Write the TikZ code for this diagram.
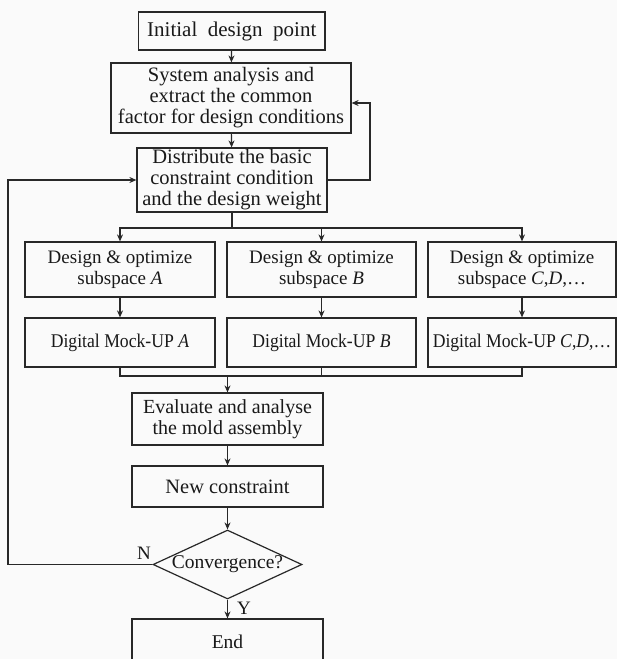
\documentclass[tikz,border=0pt]{standalone}
\usepackage{fontspec}
\setmainfont{Liberation Serif}
\newfontfamily\condserif[FakeStretch=0.91]{Liberation Serif}
\usetikzlibrary{arrows.meta,shapes.geometric}
\definecolor{bgc}{RGB}{250,250,250}
\definecolor{linec}{RGB}{40,40,40}
\definecolor{txtc}{RGB}{25,25,25}
\begin{document}
\begin{tikzpicture}[x=1pt,y=-1pt,
  box/.style={draw=linec, line width=1.2pt, inner sep=0pt, align=center, text=txtc},
  link/.style={draw=linec, line width=1.1pt, -{Stealth[length=7pt,width=6pt]}},
  plain/.style={draw=linec, line width=1.1pt},
  lab/.style={text=txtc, inner sep=0pt, font=\fontsize{19}{21}\selectfont}]
\clip (0,0) rectangle (617,659);
\fill[bgc] (0,0) rectangle (617,659);
% top chain
\node[box, minimum width=186.5, minimum height=38, font=\fontsize{21}{21}\selectfont] (init) at (231.75,31) {Initial\ \ design\ \ point};
\node[box, minimum width=240, minimum height=70, font=\fontsize{20.5}{21}\selectfont] (sys) at (231,98) {System analysis and\\extract the common\\factor for design conditions};
\node[box, minimum width=190, minimum height=64, font=\fontsize{20.5}{21}\selectfont] (dist) at (232,180) {Distribute the basic\\constraint condition\\and the design weight};
% subspace row
\node[box, minimum width=190, minimum height=55, font=\fontsize{19}{21}\selectfont] (dA) at (120,269.5) {Design \& optimize\\subspace \textit{A}};
\node[box, minimum width=189, minimum height=55, font=\fontsize{19}{21}\selectfont] (dB) at (321.5,269.5) {Design \& optimize\\subspace \textit{B}};
\node[box, minimum width=188, minimum height=55, font=\fontsize{19}{21}\selectfont] (dC) at (522,269.5) {Design \& optimize\\subspace \textit{C},\textit{D},…};
% mock-up row
\node[box, minimum width=190, minimum height=49, font=\condserif\fontsize{19.4}{21}\selectfont] (mA) at (120,342.5) {Digital Mock-UP \textit{A}};
\node[box, minimum width=189, minimum height=49, font=\condserif\fontsize{19.4}{21}\selectfont] (mB) at (321.5,342.5) {Digital Mock-UP \textit{B}};
\node[box, minimum width=188, minimum height=49, font=\condserif\fontsize{19.4}{21}\selectfont] (mC) at (522,342.5) {Digital Mock-UP \textit{C},\textit{D},…};
% lower chain
\node[box, minimum width=191, minimum height=52, font=\fontsize{20}{21}\selectfont] (eval) at (227.5,419) {Evaluate and analyse\\the mold assembly};
\node[box, minimum width=191, minimum height=41, font=\fontsize{20.4}{21}\selectfont] (new) at (227.5,486.5) {New constraint};
\node[box, shape=diamond, aspect=2.16, minimum width=149, minimum height=69, font=\fontsize{19.5}{21}\selectfont] (conv) at (227.5,564.5) {Convergence?};
\node[box, minimum width=191, minimum height=45, font=\fontsize{19.5}{21}\selectfont] (end) at (227.5,641.5) {End};
% coordinates
\coordinate (split) at (232,228);
\coordinate (merge) at (227.5,376);
\coordinate (fb) at (370,103);
\coordinate (lb) at (8,564.5);
% connectors
\draw[link] (init) -- (sys);
\draw[link] (sys) -- (dist);
\draw[plain] (dist) -- (split);
\draw[link] (split) -| (dA);
\draw[link] (split) -| (dB);
\draw[link] (split) -| (dC);
\draw[link] (dA) -- (mA);
\draw[link] (dB) -- (mB);
\draw[link] (dC) -- (mC);
\draw[plain] (mA) |- (merge);
\draw[plain] (mC) |- (merge);
\draw[plain] (mB) -- (mB |- merge);
\draw[link] (merge) -- (eval);
\draw[link] (eval) -- (new);
\draw[link] (new) -- (conv);
\draw[link] (conv) -- (end);
\draw[link] (dist.east) -| (fb) -- (sys.east |- fb);
\draw[link] (conv.west) -- (lb) |- (dist.west);
% labels
\node[lab] (nlab) at (144,553) {N};
\node[lab] (ylab) at (244,608) {Y};
\end{tikzpicture}
\end{document}
